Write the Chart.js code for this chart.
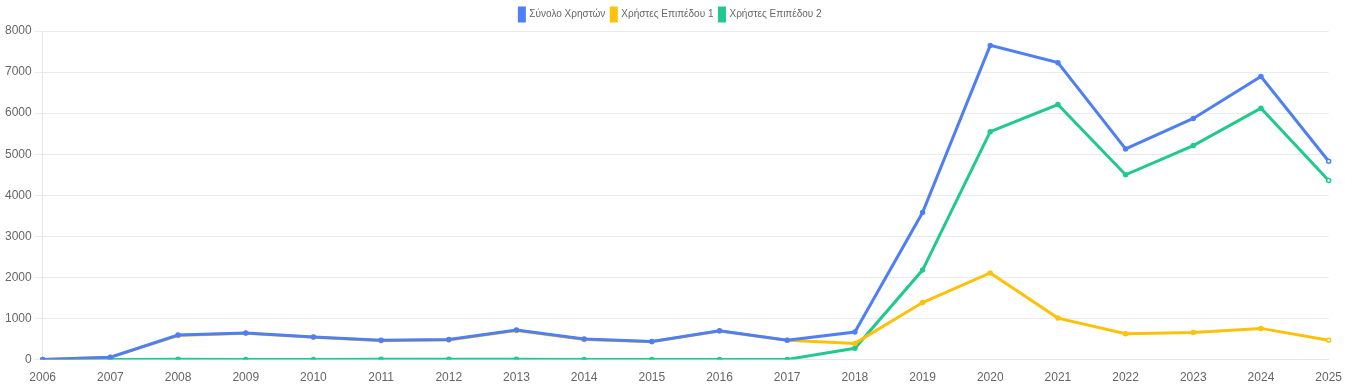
<!DOCTYPE html>
<html>
<head>
<meta charset="utf-8">
<script src="https://cdn.jsdelivr.net/npm/chart.js@4/dist/chart.umd.min.js"></script>
<style>
    html, body { margin: 0; padding: 0; background: #ffffff; }
    #wrap { width: 1345px; height: 390px; }
</style>
</head>
<body>
<div id="wrap"><canvas id="usersChart"></canvas></div>
<script>
var years = ['2006', '2007', '2008', '2009', '2010', '2011', '2012', '2013', '2014', '2015',
             '2016', '2017', '2018', '2019', '2020', '2021', '2022', '2023', '2024', '2025'];
var totalUsers = [5, 60, 600, 650, 550, 470, 490, 720, 500, 440, 700, 470, 670, 3580, 7650, 7230, 5130, 5870, 6890, 4830];
var level1Users = [5, 55, 585, 640, 545, 460, 480, 710, 490, 435, 695, 470, 395, 1390, 2110, 1010, 630, 660, 760, 470];
var level2Users = [0, 5, 10, 5, 5, 10, 10, 10, 5, 5, 5, 5, 275, 2180, 5550, 6210, 4500, 5210, 6120, 4360];

var FONT = 'Arial, "Liberation Sans", sans-serif';

function lastHollow(color) {
    return function(ctx) {
        return ctx.dataIndex === years.length - 1 ? '#ffffff' : color;
    };
}

function makeSet(label, values, color) {
    return {
        label: label,
        data: values,
        borderColor: color,
        backgroundColor: color,
        pointBackgroundColor: lastHollow(color),
        pointBorderColor: color,
        pointRadius: 2,
        pointBorderWidth: 1.5,
        borderWidth: 3,
        tension: 0,
        fill: false
    };
}

new Chart(document.getElementById('usersChart').getContext('2d'), {
    type: 'line',
    data: {
        labels: years,
        datasets: [
            makeSet('Σύνολο Χρηστών', totalUsers, '#4f7ff7'),
            makeSet('Χρήστες Επιπέδου 1', level1Users, '#fcc20b'),
            makeSet('Χρήστες Επιπέδου 2', level2Users, '#22c98d')
        ]
    },
    options: {
        responsive: true,
        maintainAspectRatio: false,
        animation: false,
        layout: { padding: { left: 2, right: 6, top: 2, bottom: 2 } },
        plugins: {
            legend: {
                position: 'top',
                labels: {
                    boxWidth: 5,
                    boxHeight: 13,
                    padding: 6,
                    color: '#666666',
                    font: { family: FONT, size: 10 }
                }
            },
            tooltip: { enabled: false }
        },
        scales: {
            x: {
                grid: { display: false },
                border: { color: '#e5e5e5' },
                ticks: { color: '#666666', font: { family: FONT, size: 12 }, maxRotation: 0 }
            },
            y: {
                min: 0,
                max: 8000,
                grid: { color: '#ebebeb' },
                border: { color: '#e5e5e5' },
                ticks: {
                    stepSize: 1000,
                    color: '#666666',
                    font: { family: FONT, size: 12 },
                    callback: function(value) { return String(value); }
                }
            }
        }
    }
});
</script>
</body>
</html>
